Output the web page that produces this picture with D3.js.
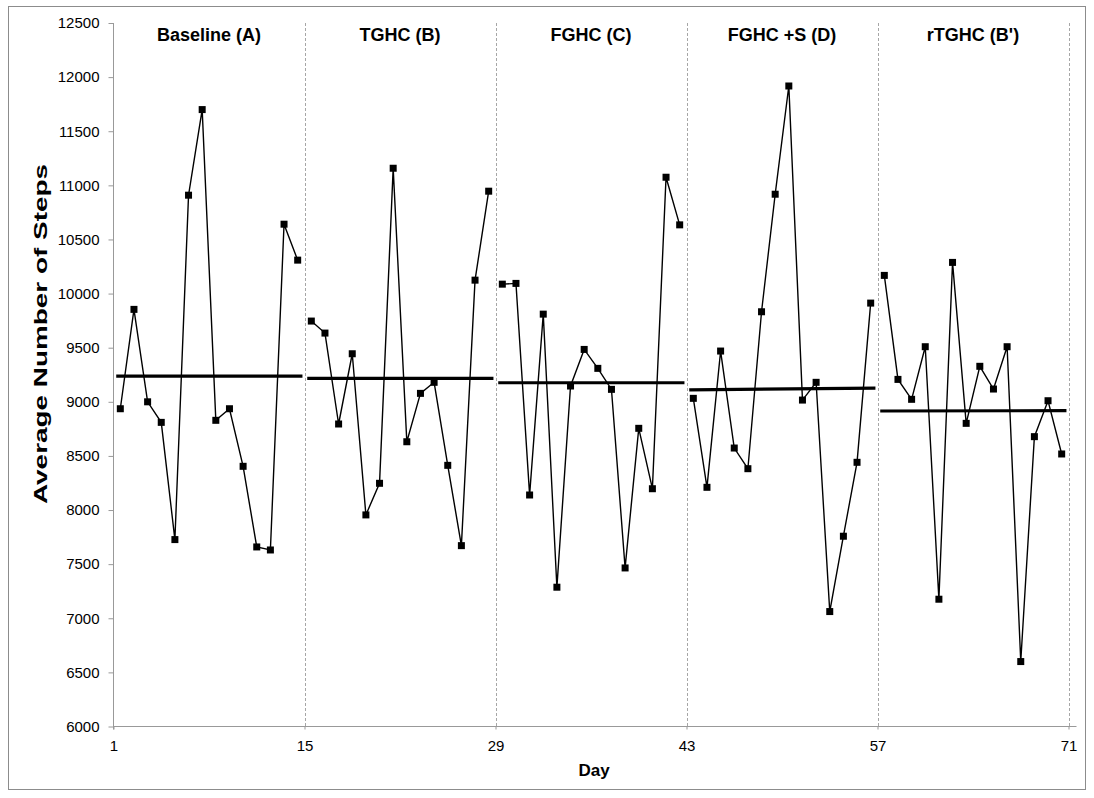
<!DOCTYPE html>
<html>
<head>
<meta charset="utf-8">
<script src="https://cdn.jsdelivr.net/npm/d3@7/dist/d3.min.js"></script>
<style>
  html, body { margin: 0; padding: 0; background: #fff; }
  svg { display: block; font-family: "Liberation Sans", Arial, sans-serif; }
</style>
</head>
<body>
<svg id="chart" width="1094" height="798"></svg>
<script>
// ---- data ----
const phaseNames = ["Baseline (A)", "TGHC (B)", "FGHC (C)", "FGHC +S (D)", "rTGHC (B')"];
const phaseStart = [1, 15, 29, 43, 57];
const phaseEnd = [15, 29, 43, 57, 71];
const xTicks = [1, 15, 29, 43, 57, 71];
const yTicks = [6000, 6500, 7000, 7500, 8000, 8500, 9000, 9500, 10000, 10500, 11000, 11500, 12000, 12500];

const stepsA = [8936, 9854, 9000, 8810, 7727, 10909, 11700, 8829, 8936, 8404, 7659, 7631, 10641, 10309];
const stepsB = [9746, 9635, 8795, 9444, 7955, 8247, 11158, 8631, 9078, 9180, 8413, 7671, 10124, 10946];
const stepsC = [10087, 10094, 8139, 9810, 7287, 9146, 9484, 9309, 9115, 7465, 8755, 8197, 11075, 10635];
const stepsD = [9032, 8210, 9469, 8573, 8382, 9832, 10918, 11918, 9016, 9180, 7062, 7758, 8441, 9912];
const stepsB2 = [10168, 9207, 9023, 9509, 7176, 10288, 8801, 9328, 9118, 9509, 6600, 8678, 9010, 8518];
const phaseSteps = [stepsA, stepsB, stepsC, stepsD, stepsB2];

// phase mean (level) lines, value at left end and right end
const meanLeft = [9238, 9217, 9176, 9110, 8915];
const meanRight = [9238, 9217, 9176, 9127, 8918];

// ---- layout ----
const svg = d3.select("#chart");
const x = d3.scaleLinear().domain([1, 71]).range([113.5, 1068.5]);
const y = d3.scaleLinear().domain([6000, 12500]).range([726.5, 23]);

// outer border
svg.append("rect").attr("x", 8.5).attr("y", 6.5).attr("width", 1077).attr("height", 783)
  .attr("fill", "none").attr("stroke", "#8c8c8c").attr("stroke-width", 1);

// phase separators (dashed)
svg.append("g").selectAll("line").data(phaseEnd).join("line")
  .attr("x1", d => Math.round(x(d)) + 0.5).attr("x2", d => Math.round(x(d)) + 0.5)
  .attr("y1", y(12500)).attr("y2", y(6000))
  .attr("stroke", "#a6a6a6").attr("stroke-width", 1).attr("stroke-dasharray", "3,2");

// y axis
const yAxis = d3.axisLeft(y).tickValues(yTicks).tickSize(5).tickPadding(9).tickFormat(d3.format("d"));
const gy = svg.append("g").attr("transform", "translate(113.5,0)").call(yAxis);
gy.select(".domain").attr("stroke", "#999").attr("d", `M0,${y(12500)}V${y(6000) + 3}`);
gy.selectAll(".tick line").attr("stroke", "#999");
gy.selectAll(".tick text").attr("fill", "#000").style("font-size", "15px")
  .style("font-family", "'Liberation Sans', Arial, sans-serif");

// x axis
const xAxis = d3.axisBottom(x).tickValues(xTicks).tickSize(3).tickPadding(11).tickFormat(d3.format("d"));
const gx = svg.append("g").attr("transform", `translate(0,${y(6000)})`).call(xAxis);
gx.select(".domain").attr("stroke", "#999").attr("d", `M${x(1)},0H${x(71) + 8}`);
gx.selectAll(".tick line").attr("stroke", "#999");
gx.selectAll(".tick text").attr("fill", "#000").style("font-size", "15px")
  .style("font-family", "'Liberation Sans', Arial, sans-serif");

// axis titles
svg.append("text").attr("x", (x(1) + x(71)) / 2 + 3).attr("y", 776).attr("text-anchor", "middle")
  .style("font-size", "17px").style("font-weight", "bold").text("Day");
svg.append("text").attr("transform", `translate(47,334) rotate(-90)`)
  .attr("text-anchor", "middle").style("font-size", "18px").style("font-weight", "bold")
  .attr("textLength", 340).attr("lengthAdjust", "spacingAndGlyphs")
  .text("Average Number of Steps");

// phase titles
svg.append("g").selectAll("text").data(phaseNames).join("text")
  .attr("x", (d, i) => (x(phaseStart[i]) + x(phaseEnd[i])) / 2)
  .attr("y", 41).attr("text-anchor", "middle")
  .style("font-size", "18px").style("font-weight", "bold").text(d => d);

// mean lines
svg.append("g").selectAll("line").data(phaseNames).join("line")
  .attr("x1", (d, i) => x(phaseStart[i] + 0.2)).attr("x2", (d, i) => x(phaseEnd[i] - 0.15))
  .attr("y1", (d, i) => y(meanLeft[i])).attr("y2", (d, i) => y(meanRight[i]))
  .attr("stroke", "#000").attr("stroke-width", 3.2);

// data lines & markers
const line = d3.line().x(d => x(d.day)).y(d => y(d.v));
phaseSteps.forEach((arr, p) => {
  const pts = arr.map((v, i) => ({ day: phaseStart[p] + i + 0.5, v }));
  svg.append("path").datum(pts).attr("d", line)
    .attr("fill", "none").attr("stroke", "#000").attr("stroke-width", 1.4);
  svg.append("g").selectAll("rect").data(pts).join("rect")
    .attr("x", d => x(d.day) - 3.5).attr("y", d => y(d.v) - 3.5)
    .attr("width", 7).attr("height", 7).attr("fill", "#000");
});
</script>
</body>
</html>
